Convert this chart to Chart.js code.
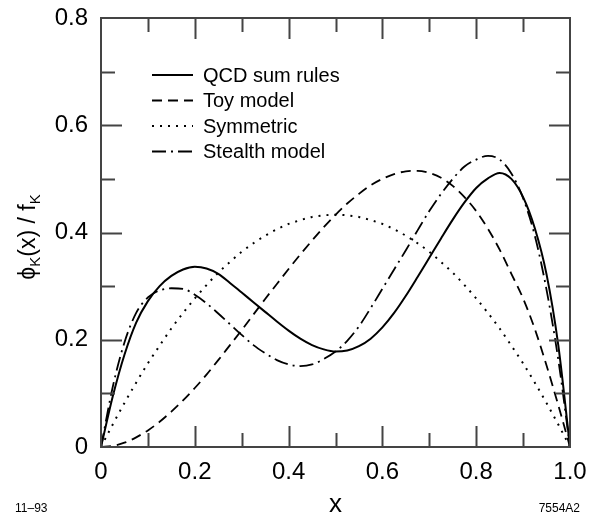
<!DOCTYPE html>
<html>
<head>
<meta charset="utf-8">
<script src="https://cdn.jsdelivr.net/npm/chart.js@4"></script>
<style>
    body { margin: 0; background: #fff; }
</style>
</head>
<body>
<canvas id="myChart" width="590" height="519"></canvas>
<script>
const xValues = [0, 0.025, 0.05, 0.075, 0.1, 0.125, 0.15, 0.175, 0.2, 0.225,
    0.25, 0.275, 0.3, 0.325, 0.35, 0.375, 0.4, 0.425, 0.45, 0.475,
    0.5, 0.525, 0.55, 0.575, 0.6, 0.625, 0.65, 0.675, 0.7, 0.725,
    0.75, 0.775, 0.8, 0.825, 0.85, 0.875, 0.9, 0.925, 0.95, 0.975, 1];

const qcdSumRules = [0, 0.094, 0.172, 0.232, 0.272, 0.300, 0.319, 0.331, 0.336, 0.333,
    0.323, 0.306, 0.288, 0.270, 0.252, 0.234, 0.217, 0.202, 0.190, 0.182,
    0.178, 0.180, 0.188, 0.202, 0.223, 0.250, 0.282, 0.317, 0.353, 0.389,
    0.424, 0.456, 0.483, 0.501, 0.511, 0.500, 0.466, 0.408, 0.322, 0.190, 0];

const toyModel = [0, 0.002, 0.008, 0.018, 0.031, 0.047, 0.066, 0.087, 0.110, 0.135,
    0.162, 0.190, 0.218, 0.247, 0.276, 0.304, 0.332, 0.359, 0.385, 0.410,
    0.433, 0.454, 0.472, 0.488, 0.500, 0.509, 0.514, 0.515, 0.511, 0.502,
    0.487, 0.466, 0.440, 0.407, 0.368, 0.323, 0.277, 0.220, 0.152, 0.078, 0];

const symmetric = [0, 0.042, 0.082, 0.120, 0.156, 0.189, 0.221, 0.250, 0.277, 0.302,
    0.325, 0.345, 0.364, 0.380, 0.394, 0.406, 0.416, 0.423, 0.429, 0.432,
    0.433, 0.432, 0.429, 0.423, 0.416, 0.406, 0.394, 0.380, 0.364, 0.345,
    0.325, 0.302, 0.277, 0.250, 0.221, 0.189, 0.156, 0.120, 0.082, 0.042, 0];

const stealthModel = [0, 0.112, 0.195, 0.250, 0.279, 0.292, 0.296, 0.295, 0.284, 0.268,
    0.249, 0.229, 0.209, 0.190, 0.175, 0.162, 0.154, 0.151, 0.154, 0.164,
    0.178, 0.198, 0.225, 0.259, 0.295, 0.331, 0.367, 0.404, 0.440, 0.472,
    0.500, 0.523, 0.536, 0.543, 0.536, 0.510, 0.464, 0.394, 0.293, 0.163, 0];

const seriesLabels = ['QCD sum rules', 'Toy model', 'Symmetric', 'Stealth model'];
const xMinorTicks = [0.1, 0.2, 0.3, 0.4, 0.5, 0.6, 0.7, 0.8, 0.9];
const yMinorTicks = [0.1, 0.2, 0.3, 0.4, 0.5, 0.6, 0.7];

const FONT = "'Liberation Sans', Arial, Helvetica, sans-serif";

function toPoints(ys) {
    return xValues.map(function (x, i) { return { x: x, y: ys[i] }; });
}

function tickLabel(v) {
    return v === 0 ? '0' : v.toFixed(1);
}

// no extra room for overhanging tick labels, the plot box is fixed
function noOverhang(s) {
    s.paddingTop = 0;
    s.paddingBottom = 0;
    s.paddingLeft = 0;
    s.paddingRight = 0;
}

// frame, inward ticks, legend and the extra texts
const decorations = {
    id: 'decorations',
    afterDraw: function (chart) {
        var ctx = chart.ctx;
        var a = chart.chartArea;
        var xs = chart.scales.x, ys = chart.scales.y;
        ctx.save();
        ctx.strokeStyle = '#444';
        ctx.lineWidth = 2;
        ctx.strokeRect(a.left, a.top, a.right - a.left, a.bottom - a.top);

        xMinorTicks.forEach(function (v, i) {
            var len = (i % 2 === 1) ? 21 : 14;
            var px = Math.round(xs.getPixelForValue(v)) + 0.5;
            ctx.beginPath();
            ctx.moveTo(px, a.bottom); ctx.lineTo(px, a.bottom - len);
            ctx.moveTo(px, a.top); ctx.lineTo(px, a.top + len);
            ctx.stroke();
        });
        yMinorTicks.forEach(function (v, i) {
            var len = (i % 2 === 1) ? 21 : 14;
            var py = Math.round(ys.getPixelForValue(v)) + 0.5;
            ctx.beginPath();
            ctx.moveTo(a.left, py); ctx.lineTo(a.left + len, py);
            ctx.moveTo(a.right, py); ctx.lineTo(a.right - len, py);
            ctx.stroke();
        });

        // legend
        ctx.fillStyle = '#000';
        ctx.font = '20px ' + FONT;
        ctx.textBaseline = 'middle';
        chart.data.datasets.forEach(function (ds, i) {
            var y = 75 + i * 25.5;
            ctx.strokeStyle = '#000';
            ctx.lineWidth = ds.borderWidth;
            ctx.setLineDash(ds.borderDash || []);
            ctx.beginPath();
            ctx.moveTo(152, y); ctx.lineTo(193, y);
            ctx.stroke();
            ctx.setLineDash([]);
            ctx.fillText(ds.label, 203, y + 1);
        });

        // y axis title with subscripts
        ctx.translate(35, 237);
        ctx.rotate(-Math.PI / 2);
        var parts = [['\u03d5', 23, 0], ['K', 15, 5], ['(x) / f', 23, 0], ['K', 15, 5]];
        var total = 0;
        parts.forEach(function (p) {
            ctx.font = p[1] + 'px ' + FONT;
            total += ctx.measureText(p[0]).width;
        });
        var cx = -total / 2;
        ctx.textBaseline = 'alphabetic';
        ctx.textAlign = 'left';
        parts.forEach(function (p) {
            ctx.font = p[1] + 'px ' + FONT;
            ctx.fillText(p[0], cx, p[2]);
            cx += ctx.measureText(p[0]).width;
        });
        ctx.restore();

        ctx.save();
        ctx.fillStyle = '#000';
        ctx.font = '26px ' + FONT;
        ctx.textAlign = 'center';
        ctx.textBaseline = 'alphabetic';
        ctx.fillText('x', xs.getPixelForValue(0.5), 512);
        ctx.font = '12px ' + FONT;
        ctx.textAlign = 'left';
        ctx.fillText('11\u201393', 15, 512);
        ctx.textAlign = 'right';
        ctx.fillText('7554A2', 580, 512);
        ctx.restore();
    }
};

function initializeChart() {
    var ctx = document.getElementById('myChart').getContext('2d');
    var styles = [
        { dash: [], width: 2 },
        { dash: [10, 6], width: 1.8 },
        { dash: [2, 6], width: 2 },
        { dash: [14, 5, 2, 5], width: 1.8 }
    ];
    var series = [qcdSumRules, toyModel, symmetric, stealthModel];

    new Chart(ctx, {
        type: 'line',
        data: {
            datasets: series.map(function (ys, i) {
                return {
                    label: seriesLabels[i],
                    data: toPoints(ys),
                    borderColor: '#000',
                    borderWidth: styles[i].width,
                    borderDash: styles[i].dash,
                    pointRadius: 0,
                    fill: false,
                    cubicInterpolationMode: 'monotone'
                };
            })
        },
        options: {
            responsive: false,
            animation: false,
            layout: { padding: { top: 18, right: 20, left: 0, bottom: 0 } },
            plugins: {
                legend: { display: false },
                tooltip: { enabled: false }
            },
            scales: {
                x: {
                    type: 'linear',
                    min: 0,
                    max: 1,
                    grid: { display: false, drawTicks: false },
                    border: { display: false },
                    afterFit: function (s) { s.height = 72; noOverhang(s); },
                    ticks: {
                        stepSize: 0.2,
                        padding: 11,
                        color: '#000',
                        font: { family: FONT, size: 24 },
                        callback: tickLabel
                    }
                },
                y: {
                    min: 0,
                    max: 0.8,
                    grid: { display: false, drawTicks: false },
                    border: { display: false },
                    afterFit: function (s) { s.width = 101; noOverhang(s); },
                    ticks: {
                        stepSize: 0.2,
                        padding: 13,
                        color: '#000',
                        font: { family: FONT, size: 24 },
                        callback: tickLabel
                    }
                }
            }
        },
        plugins: [decorations]
    });
}

initializeChart();
</script>
</body>
</html>
